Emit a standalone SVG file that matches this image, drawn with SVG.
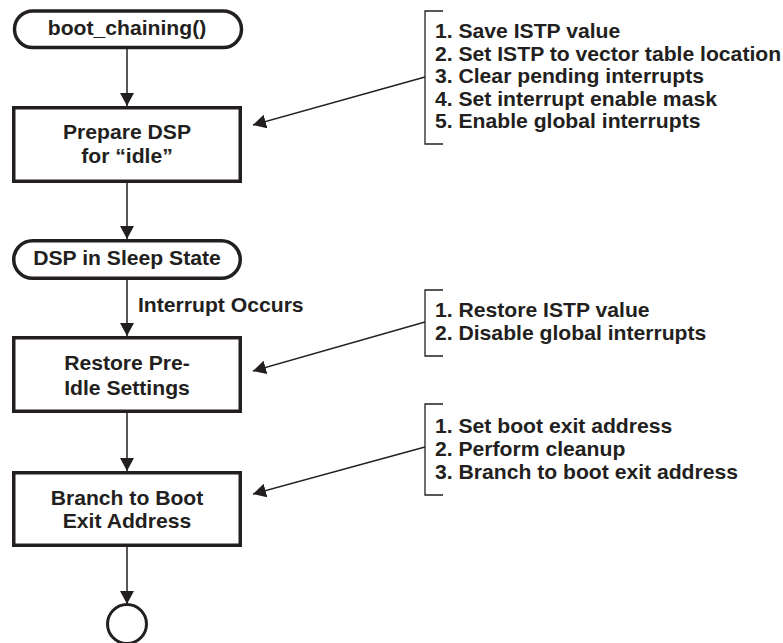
<svg xmlns="http://www.w3.org/2000/svg" width="783" height="643" viewBox="0 0 783 643">
<style>
.node{fill:#fff;stroke:#231f20;stroke-width:3.5}
.con{fill:none;stroke:#231f20;stroke-width:1.5}
.br{fill:none;stroke:#231f20;stroke-width:1.3}
text{font-family:"Liberation Sans",Arial,sans-serif;font-weight:bold;font-size:19.5px;fill:#231f20}
.c{text-anchor:middle}
</style>
<defs>
<marker id="ah" markerUnits="userSpaceOnUse" markerWidth="14" markerHeight="14" refX="13" refY="7" orient="auto" viewBox="0 0 14 14">
<path d="M0,0 L13,7 L0,14 z" fill="#231f20"/>
</marker>
</defs>
<rect width="783" height="643" fill="#fff"/>
<g id="connectors">
<line class="con" x1="127" y1="49" x2="127" y2="106" marker-end="url(#ah)"/>
<line class="con" x1="127" y1="183" x2="127" y2="239" marker-end="url(#ah)"/>
<line class="con" x1="127" y1="280" x2="127" y2="336" marker-end="url(#ah)"/>
<line class="con" x1="127" y1="413" x2="127" y2="471" marker-end="url(#ah)"/>
<line class="con" x1="127" y1="547" x2="127" y2="604" marker-end="url(#ah)"/>
<line class="con" x1="425" y1="77" x2="253" y2="125" marker-end="url(#ah)"/>
<line class="con" x1="425" y1="322" x2="253" y2="371" marker-end="url(#ah)"/>
<line class="con" x1="425" y1="447" x2="253" y2="494" marker-end="url(#ah)"/>
<text transform="scale(1.085,1)" x="127.2" y="312">Interrupt Occurs</text>
</g>
<g id="start">
<rect class="node" x="14.5" y="11" width="227" height="36.5" rx="18.25"/>
<text class="c" transform="scale(1.085,1)" x="117.05" y="35">boot_chaining()</text>
</g>
<g id="prepare">
<rect class="node" x="13.75" y="107.75" width="226.5" height="73.5"/>
<text class="c" transform="scale(1.085,1)" x="117.05" y="139">Prepare DSP</text>
<text class="c" transform="scale(1.085,1)" x="117.05" y="163">for “idle”</text>
</g>
<g id="sleep">
<rect class="node" x="13.75" y="240.75" width="226.5" height="37.5" rx="18.75"/>
<text class="c" transform="scale(1.085,1)" x="117.05" y="265">DSP in Sleep State</text>
</g>
<g id="restore">
<rect class="node" x="13.75" y="337.75" width="226.5" height="73.5"/>
<text class="c" transform="scale(1.085,1)" x="117.05" y="370">Restore Pre-</text>
<text class="c" transform="scale(1.085,1)" x="117.05" y="395">Idle Settings</text>
</g>
<g id="branch">
<rect class="node" x="13.75" y="472.75" width="226.5" height="72.5"/>
<text class="c" transform="scale(1.085,1)" x="117.05" y="505">Branch to Boot</text>
<text class="c" transform="scale(1.085,1)" x="117.05" y="528">Exit Address</text>
</g>
<g id="end">
<circle class="node" cx="127" cy="624" r="19.5" style="stroke-width:3"/>
</g>
<g id="note1">
<path class="br" d="M443,11 H425 V144 H443"/>
<g transform="scale(1.085,1)">
<text x="400.9" y="38.3">1. Save ISTP value</text>
<text x="400.9" y="60.8">2. Set ISTP to vector table location</text>
<text x="400.9" y="83.3">3. Clear pending interrupts</text>
<text x="400.9" y="105.8">4. Set interrupt enable mask</text>
<text x="400.9" y="128.3">5. Enable global interrupts</text>
</g>
</g>
<g id="note2">
<path class="br" d="M443,290 H425 V356 H443"/>
<g transform="scale(1.085,1)">
<text x="400.9" y="317.3">1. Restore ISTP value</text>
<text x="400.9" y="340.5">2. Disable global interrupts</text>
</g>
</g>
<g id="note3">
<path class="br" d="M443,404 H425 V495 H443"/>
<g transform="scale(1.085,1)">
<text x="400.9" y="432.7">1. Set boot exit address</text>
<text x="400.9" y="456">2. Perform cleanup</text>
<text x="400.9" y="479.3">3. Branch to boot exit address</text>
</g>
</g>
</svg>
